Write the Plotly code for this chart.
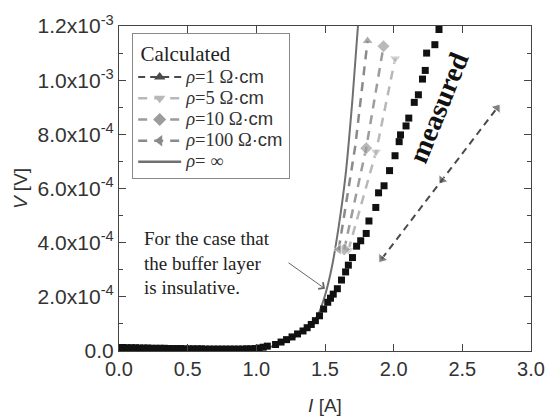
import numpy as np
import plotly.graph_objects as go

# ---------------- data (V values in units of 1e-4 V) ----------------
meas_I = [0.00, 0.03, 0.06, 0.09, 0.12, 0.15, 0.18, 0.21, 0.24, 0.27, 0.30, 0.33,
          0.36, 0.39, 0.42, 0.45, 0.48, 0.51, 0.54, 0.57, 0.60, 0.63, 0.66, 0.69,
          0.72, 0.75, 0.78, 0.81, 0.84, 0.87, 0.90, 0.93, 0.96, 0.99, 1.02, 1.05,
          1.08, 1.14, 1.18, 1.22, 1.26, 1.30, 1.34, 1.37, 1.40, 1.43, 1.46, 1.49,
          1.52, 1.54, 1.56, 1.59, 1.62, 1.65, 1.67, 1.70, 1.73, 1.76, 1.80, 1.82,
          1.87, 1.89, 1.93, 1.97, 2.01, 2.04, 2.05, 2.09, 2.11, 2.15, 2.18, 2.21,
          2.23, 2.24, 2.30, 2.33]
meas_V = [0.13, 0.13, 0.12, 0.12, 0.12, 0.11, 0.11, 0.11, 0.10, 0.10, 0.10, 0.10,
          0.09, 0.09, 0.09, 0.09, 0.08, 0.08, 0.08, 0.08, 0.08, 0.07, 0.07, 0.07,
          0.07, 0.07, 0.07, 0.07, 0.07, 0.07, 0.07, 0.08, 0.08, 0.09, 0.11, 0.14,
          0.18, 0.24, 0.33, 0.42, 0.52, 0.63, 0.74, 0.86, 0.98, 1.12, 1.30, 1.55,
          1.80, 1.95, 2.10, 2.30, 2.62, 2.92, 3.17, 3.45, 3.87, 4.07, 4.34, 4.80,
          5.30, 5.84, 6.10, 6.66, 7.21, 7.73, 7.98, 8.31, 8.60, 9.18, 9.46, 10.04,
          10.36, 11.00, 11.31, 11.87]

inf_I = [0.00, 0.30, 0.60, 0.90, 1.00, 1.10, 1.20, 1.30, 1.40, 1.45, 1.50, 1.55,
         1.60, 1.65, 1.70, 1.74]
inf_V = [0.06, 0.05, 0.04, 0.04, 0.07, 0.15, 0.32, 0.58, 0.98, 1.35, 2.05, 3.10,
         4.60, 6.50, 9.30, 12.00]

rho1_I = [1.914, 2.352, 2.753]
rho1_V = [3.41, 6.31, 8.97]
rho5_I = [1.670, 1.872, 2.011]
rho5_V = [3.72, 7.36, 10.80]
rho10_I = [1.640, 1.800, 1.926]
rho10_V = [3.75, 7.49, 11.25]
rho100_I = [1.600, 1.720, 1.810]
rho100_V = [3.75, 7.55, 11.45]

x_ticks = [0.0, 0.5, 1.0, 1.5, 2.0, 2.5, 3.0]
y_ticks = [0.0, 2e-4, 4e-4, 6e-4, 8e-4, 1.0e-3, 1.2e-3]
y_ticktext = ["0.0", "2.0x10<sup>-4</sup>", "4.0x10<sup>-4</sup>", "6.0x10<sup>-4</sup>",
              "8.0x10<sup>-4</sup>", "1.0x10<sup>-3</sup>", "1.2x10<sup>-3</sup>"]

SCALE = 1e-4
SANS = "Liberation Sans"
SERIF = "Liberation Serif"

def v(arr):
    return [a * SCALE for a in arr]

def lbl(num):
    return ("<span style='font-size:18.5px'><i>ρ</i>=" + num +
            " Ω<span style='font-family:Liberation Sans'>·cm</span></span>")

C1, C5, C10, C100, CINF = "#4a4a4a", "#b8b8b8", "#9c9c9c", "#8a8a8a", "#707070"

fig = go.Figure()

# rho = infinity solid line
fig.add_trace(go.Scatter(x=inf_I, y=v(inf_V), mode="lines", showlegend=False,
                         line=dict(color=CINF, width=2, shape="spline", smoothing=0.6)))

# calculated dashed curves
series = [
    (rho1_I, rho1_V, C1, "triangle-up", [217, 217, 37], [10, 10, 10], "7px,5px", 2.0),
    (rho5_I, rho5_V, C5, "triangle-down", [0, 0, 0], [10, 10, 10], "9px,7px", 2.5),
    (rho10_I, rho10_V, C10, "diamond", [0, 0, 0], [10, 10, 10], "9px,7px", 2.5),
    (rho100_I, rho100_V, C100, "triangle-left", [0, 0, 90], [10, 0, 10], "9px,7px", 2.5),
]
for xi, yi, col, sym, ang, sz, dash, w in series:
    fig.add_trace(go.Scatter(x=xi, y=v(yi), mode="lines+markers", showlegend=False,
                             line=dict(color=col, width=w, dash=dash),
                             marker=dict(symbol=sym, color=col, size=sz, angle=ang)))

# measured squares
fig.add_trace(go.Scatter(x=meas_I, y=v(meas_V), mode="markers", showlegend=False,
                         marker=dict(symbol="square", color="#111111", size=7)))

# legend entries
leg = [("1", C1, "triangle-up", "7px,5px", 2.0),
       ("5", C5, "triangle-down", "9px,7px", 2.5),
       ("10", C10, "diamond", "9px,7px", 2.5),
       ("100", C100, "triangle-left", "9px,7px", 2.5)]
for num, col, sym, dash, w in leg:
    fig.add_trace(go.Scatter(x=[None], y=[None], mode="lines+markers", name=lbl(num),
                             line=dict(color=col, width=w, dash=dash),
                             marker=dict(symbol=sym, color=col, size=10)))
fig.add_trace(go.Scatter(x=[None], y=[None], mode="lines",
                         name="<span style='font-size:18.5px'><i>ρ</i>= ∞</span>",
                         line=dict(color=CINF, width=2.5)))

axis_common = dict(showline=True, linecolor="#444", linewidth=1.2, mirror="allticks",
                   ticks="inside", ticklen=7, tickwidth=1.2, tickcolor="#444",
                   showgrid=False, zeroline=False, automargin=False)

fig.update_xaxes(range=[0, 3], tickvals=x_ticks, ticktext=[f"{t:.1f}" for t in x_ticks],
                 tickfont=dict(family=SANS, size=20, color="#333"),
                 title=dict(text="<i>I</i> [A]", font=dict(family=SANS, size=19, color="#333"),
                            standoff=22),
                 **axis_common)
fig.update_yaxes(range=[0, 1.2e-3], tickvals=y_ticks, ticktext=y_ticktext,
                 tickfont=dict(family=SANS, size=21, color="#333"),
                 minor=dict(ticks="inside", ticklen=4, dtick=1e-4, tickcolor="#444", tickwidth=1.2),
                 title=dict(text="<i>V</i> [V]", font=dict(family=SANS, size=19, color="#333"),
                            standoff=4),
                 **axis_common)

fig.add_annotation(x=2.325, y=9.0e-4, xref="x", yref="y", text="<b>measured</b>",
                   showarrow=False, textangle=-68,
                   font=dict(family=SERIF, size=28, color="#111"))
fig.add_annotation(x=0.17, y=3.24e-4, xref="x", yref="y",
                   text="For the case that<br>the buffer layer<br>is insulative.",
                   showarrow=False, xanchor="left", yanchor="middle", align="left",
                   font=dict(family=SERIF, size=19, color="#222"))
fig.add_annotation(x=1.50, y=2.30e-4, xref="x", yref="y", text="", showarrow=True,
                   ax=-38, ay=-27, arrowhead=4, arrowsize=1.6, arrowwidth=1,
                   arrowcolor="#666")

fig.update_layout(
    width=550, height=416,
    margin=dict(l=119, r=19, t=26, b=65),
    paper_bgcolor="white", plot_bgcolor="white",
    legend=dict(x=0.032, y=0.978, xanchor="left", yanchor="top",
                bgcolor="white", bordercolor="#888", borderwidth=1,
                font=dict(family=SERIF, size=14, color="#333"),
                itemwidth=43,
                title=dict(text="\u00a0Calculated", font=dict(family=SERIF, size=21, color="#222")),
                tracegroupgap=0),
)

fig.write_html("out.html")
